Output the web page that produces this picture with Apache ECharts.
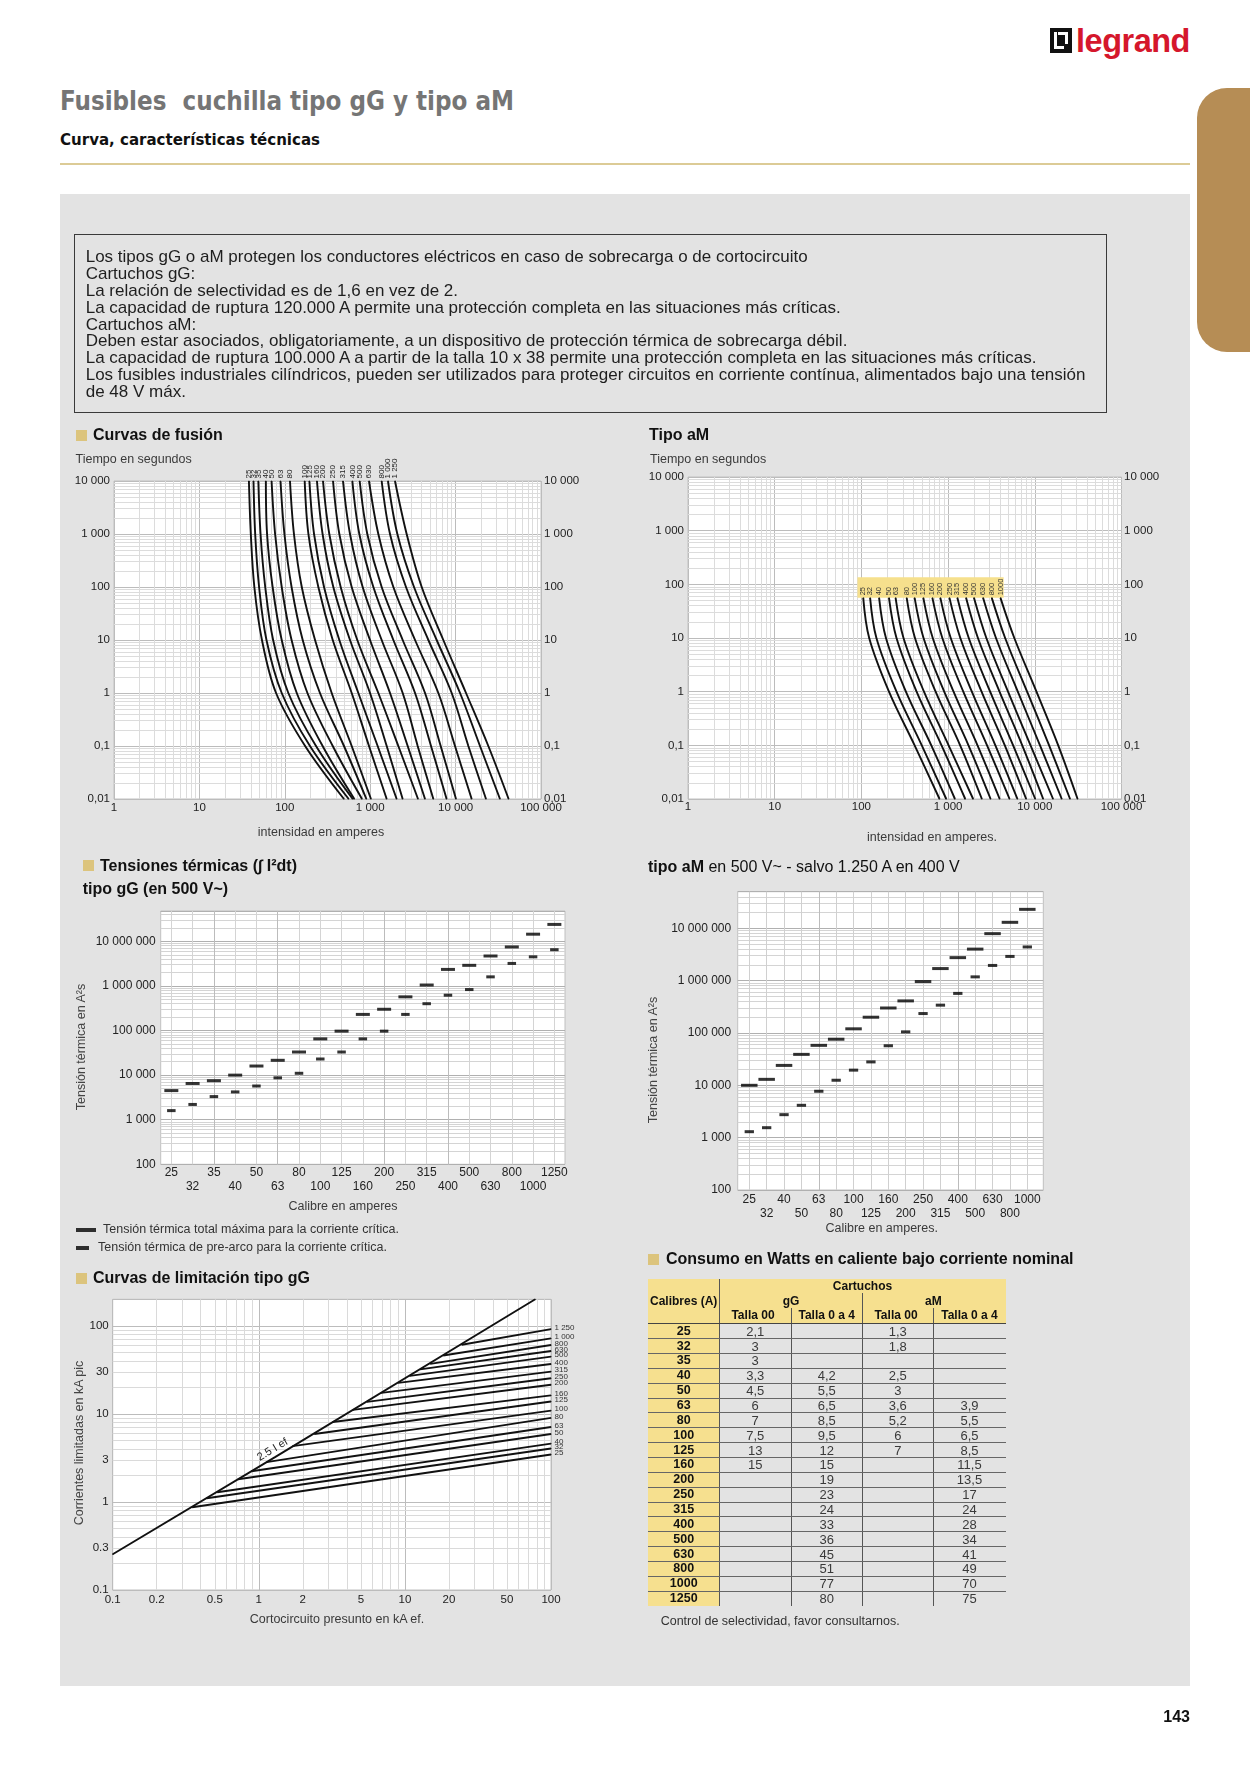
<!DOCTYPE html>
<html lang="es">
<head>
<meta charset="utf-8">
<title>Fusibles cuchilla tipo gG y tipo aM</title>
<script src="https://cdn.jsdelivr.net/npm/echarts@6.0.0/dist/echarts.min.js"></script>
<style>
html,body{margin:0;padding:0;background:#fff;}
body{width:1250px;height:1766px;position:relative;overflow:hidden;font-family:'Liberation Sans',Arial,Helvetica,sans-serif;color:#222;}
.abs{position:absolute;white-space:pre;}
.sq{position:absolute;width:11px;height:11px;background:#dcc47d;}
</style>
</head>
<body>
<div class="abs" style="left:60px;top:194px;width:1130px;height:1492px;background:#e3e3e3"></div>
<div class="abs" style="left:1197px;top:88px;width:53px;height:264px;background:#b68d55;border-radius:30px 0 0 30px"></div>
<div class="abs" style="left:60px;top:163px;width:1130px;height:2px;background:#dccb96"></div>
<div class="abs" style="left:74px;top:234px;width:1031px;height:177px;border:1px solid #3a3a3a"></div>
<!-- logo -->
<div class="abs" style="left:1050px;top:28px;width:22px;height:25px;background:#111"></div>
<div class="abs" style="left:1054px;top:32px;width:3px;height:17px;background:#fff"></div>
<div class="abs" style="left:1054px;top:46px;width:10px;height:3px;background:#fff"></div>
<div class="abs" style="left:1065px;top:32px;width:3px;height:12px;background:#fff"></div>
<div class="abs" style="left:1058px;top:32px;width:10px;height:3px;background:#fff"></div>
<div id="logo" class="abs" style="left:1076px;top:20px;line-height:40px;font-size:34px;font-weight:bold;color:#d5172c;letter-spacing:-0.5px">legrand</div>
<div id="title" class="abs" style="left:60px;top:85px;line-height:32px;font-size:26px;font-weight:bold;color:#757575;font-family:'Liberation Sans Narrow','DejaVu Sans Condensed','Liberation Sans',sans-serif">Fusibles  cuchilla tipo gG y tipo aM</div>
<div id="subtitle" class="abs" style="left:60px;top:129.5px;line-height:20px;font-size:16px;font-weight:bold;color:#111;font-family:'Liberation Sans Narrow','DejaVu Sans Condensed','Liberation Sans',sans-serif">Curva, características técnicas</div>
<div id="chart" style="position:absolute;left:0;top:0;width:1250px;height:1766px;"></div>
<div id="texts"></div>
<div id="table" class="abs" style="left:648px;top:1279.3px;width:357.7px;height:326.4px"></div>
<script>
// ===================== DATA =====================
// Curvas de fusión gG : time points (s) and melting current (A) per rating
const fusionTimes = [10000, 1000, 100, 10, 1, 0.1, 0.01];
const gGRatings = ['25','32','35','40','50','63','80','100','125','160','200','250','315','400','500','630','800','1 000','1 250'];
const gGFusionCurrents = [
  [38, 40, 44, 54, 79, 173, 493],
  [43, 45, 50, 61, 92, 197, 560],
  [49, 52, 59, 73, 110, 232, 624],
  [60, 62, 72, 92, 138, 277, 652],
  [70, 77, 92, 120, 184, 364, 802],
  [89, 99, 120, 162, 258, 493, 902],
  [115, 128, 158, 226, 354, 607, 1021],
  [171, 189, 247, 364, 607, 968, 1560],
  [194, 220, 288, 435, 726, 1222, 2042],
  [238, 277, 370, 580, 995, 1560, 2400],
  [280, 332, 451, 706, 1245, 2135, 3630],
  [367, 435, 607, 995, 1706, 2747, 4385],
  [480, 580, 816, 1362, 2400, 3597, 5488],
  [618, 746, 1089, 1867, 3350, 5152, 7850],
  [753, 925, 1362, 2400, 4385, 6688, 10110],
  [968, 1245, 1867, 3350, 6281, 9840, 15420],
  [1362, 1706, 2624, 4797, 8995, 14100, 22700],
  [1615, 2080, 3258, 6000, 11270, 19300, 33100],
  [1950, 2672, 4010, 7180, 13240, 24160, 41780]
];
// Tipo aM fusion curves
const aMTimes = [56, 10, 1, 0.1, 0.01];
const aMRatings = ['25','32','40','50','63','80','100','125','160','200','250','315','400','500','630','800','1000'];
const aMFusionCurrents = [
  [105, 123, 208, 411, 797],
  [126, 149, 254, 497, 953],
  [160, 192, 326, 640, 1200],
  [208, 254, 433, 840, 1577],
  [248, 306, 527, 1014, 1946],
  [333, 415, 718, 1377, 2453],
  [411, 521, 902, 1718, 3092],
  [518, 665, 1156, 2183, 3937],
  [659, 858, 1497, 2812, 5117],
  [814, 1072, 1879, 3508, 6310],
  [1037, 1383, 2432, 4508, 7955],
  [1279, 1730, 3055, 5623, 10120],
  [1611, 2208, 3917, 7161, 12500],
  [1987, 2761, 4912, 8933, 16250],
  [2531, 3565, 6368, 11480, 20470],
  [3189, 4550, 8150, 14620, 25520],
  [4018, 5803, 10450, 18620, 31170]
];
// Tensiones térmicas gG (A²s)
const gGThermCal = ['25','32','35','40','50','63','80','100','125','160','200','250','315','400','500','630','800','1000','1250'];
const gGThermTotal = [4500, 6500, 7500, 10000, 16000, 21500, 33000, 65000, 97000, 230000, 300000, 570000, 1050000, 2350000, 2900000, 4700000, 7500000, 14500000, 24000000];
const gGThermPre = [1600, 2200, 3300, 4200, 5700, 8700, 11000, 23000, 33000, 65000, 97000, 230000, 400000, 620000, 830000, 1600000, 3200000, 4500000, 6500000];
// Tensiones térmicas aM (A²s)
const aMThermCal = ['25','32','40','50','63','80','100','125','160','200','250','315','400','500','630','800','1000'];
const aMThermTotal = [10000, 13000, 24000, 39000, 58000, 76000, 120000, 200000, 300000, 410000, 960000, 1700000, 2750000, 4000000, 7900000, 13000000, 23000000];
const aMThermPre = [1300, 1550, 2750, 4150, 7700, 12500, 19500, 28000, 57000, 105000, 235000, 340000, 570000, 1180000, 1950000, 2900000, 4400000];
// Curvas de limitación gG (kA)
const limRatings = ['1 250','1 000','800','630','500','400','315','250','200','160','125','100','80','63','50','40','32','25'];
const limStartKA = [24.5, 18.3, 14.9, 12.7, 10.8, 9.0, 6.9, 5.5, 4.4, 3.2, 2.4, 1.7, 1.13, 0.89, 0.72, 0.52, 0.44, 0.35];
const limStartPeak = [61, 46, 37, 32, 27, 22.5, 17.3, 13.7, 11.1, 8.1, 5.9, 4.3, 2.83, 2.23, 1.81, 1.29, 1.1, 0.87];
const limEndKA = 100;
const limEndPeak = [91.7, 71.9, 60.5, 51.7, 44.7, 36.9, 30.2, 25.4, 21.4, 16.2, 13.8, 10.9, 9.0, 7.1, 5.9, 4.6, 4.04, 3.46];
const diagKA = [0.1, 1.3, 78];
const diagPeak = [0.255, 3.25, 200];
// Consumo en Watts
const calibres = ['25','32','35','40','50','63','80','100','125','160','200','250','315','400','500','630','800','1000','1250'];
const gGTalla00 = [2.1, 3, 3, 3.3, 4.5, 6, 7, 7.5, 13, 15, null, null, null, null, null, null, null, null, null];
const gGTalla04 = [null, null, null, 4.2, 5.5, 6.5, 8.5, 9.5, 12, 15, 19, 23, 24, 33, 36, 45, 51, 77, 80];
const aMTalla00 = [1.3, 1.8, null, 2.5, 3, 3.6, 5.2, 6, 7, null, null, null, null, null, null, null, null, null, null];
const aMTalla04 = [null, null, null, null, null, 3.9, 5.5, 6.5, 8.5, 11.5, 13.5, 17, 24, 28, 34, 41, 49, 70, 75];
// Tick labels
const timeTicks = [0.01, 0.1, 1, 10, 100, 1000, 10000];
const timeTickLabels = ['0,01', '0,1', '1', '10', '100', '1 000', '10 000'];
const currentTicks = [1, 10, 100, 1000, 10000, 100000];
const currentTickLabels = ['1', '10', '100', '1 000', '10 000', '100 000'];
const thermTicks = [100, 1000, 10000, 100000, 1000000, 10000000];
const thermTickLabels = ['100', '1 000', '10 000', '100 000', '1 000 000', '10 000 000'];
const limXTicks = [0.1, 0.2, 0.5, 1, 2, 5, 10, 20, 50, 100];
const limYTicks = [0.1, 0.3, 1, 3, 10, 30, 100];

const LEG_TOTAL = 'Tensión térmica total máxima para la corriente crítica.';
const LEG_PRE = 'Tensión térmica de pre-arco para la corriente crítica.';
const FONT = "'Liberation Sans', Arial, Helvetica, sans-serif";

// ===================== HTML TEXTS =====================
const textsEl = document.getElementById('texts');
function T(text, x, cy, o) {
  o = o || {};
  const lh = o.lh || Math.round((o.fs || 12.5) * 1.25);
  const d = document.createElement('div');
  d.className = 'abs';
  d.textContent = text;
  let css = `left:${x}px;top:${cy - lh / 2}px;line-height:${lh}px;font-size:${o.fs || 12.5}px;color:${o.color || '#222'};`;
  if (o.bold) css += 'font-weight:bold;';
  if (o.anchor === 'c') css += 'transform:translateX(-50%);';
  if (o.anchor === 'r') css += 'transform:translateX(-100%);';
  if (o.rot) css = `left:${x}px;top:${cy}px;line-height:${lh}px;font-size:${o.fs || 12.5}px;color:${o.color || '#222'};transform:translate(-50%,-50%) rotate(-90deg);`;
  d.style.cssText = css;
  (o.parent || textsEl).appendChild(d);
  return d;
}
function SQ(x, cy) { const d = document.createElement('div'); d.className = 'sq'; d.style.left = x + 'px'; d.style.top = (cy - 5.5) + 'px'; textsEl.appendChild(d); }

// text box
const boxLines = [
  'Los tipos gG o aM protegen los conductores eléctricos en caso de sobrecarga o de cortocircuito',
  'Cartuchos gG:',
  'La relación de selectividad es de 1,6 en vez de 2.',
  'La capacidad de ruptura 120.000 A permite una protección completa en las situaciones más críticas.',
  'Cartuchos aM:',
  'Deben estar asociados, obligatoriamente, a un dispositivo de protección térmica de sobrecarga débil.',
  'La capacidad de ruptura 100.000 A a partir de la talla 10 x 38 permite una protección completa en las situaciones más críticas.',
  'Los fusibles industriales cilíndricos, pueden ser utilizados para proteger circuitos en corriente contínua, alimentados bajo una tensión',
  'de 48 V máx.'
];
const boxEls = boxLines.map((t, i) => T(t, 85.7, 256.7 + i * 16.85, {fs: 15, lh: 17, color: '#1e1e1e'}));

// headings
SQ(75.5, 435); T('Curvas de fusión', 93, 435, {fs: 16, bold: true, lh: 20, color: '#111'});
T('Tiempo en segundos', 75.5, 459, {fs: 12.5, color: '#3a3a3a'});
T('intensidad en amperes', 321, 832, {fs: 12.5, color: '#3a3a3a', anchor: 'c'});
T('Tipo aM', 649, 435, {fs: 16, bold: true, lh: 20, color: '#111'});
T('Tiempo en segundos', 650, 458.7, {fs: 12.5, color: '#3a3a3a'});
T('intensidad en amperes.', 932, 836.7, {fs: 12.5, color: '#3a3a3a', anchor: 'c'});
SQ(82.7, 865.7); T('Tensiones térmicas (∫ I²dt)', 100, 865.7, {fs: 16, bold: true, lh: 20, color: '#111'});
T('tipo gG (en 500 V~)', 82.7, 889.3, {fs: 16, bold: true, lh: 20, color: '#111'});
T('Tensión térmica en A²s', 80.7, 1047, {fs: 12.5, color: '#444', rot: true});
T('Calibre en amperes', 343, 1206, {fs: 12.5, color: '#3a3a3a', anchor: 'c'});
(function () {
  const d = T('', 648, 867, {fs: 16, lh: 20, color: '#111'});
  d.innerHTML = '<b>tipo aM</b> en 500 V~ - salvo 1.250 A en 400 V';
})();
T('Tensión térmica en A²s', 652.7, 1060, {fs: 12.5, color: '#444', rot: true});
T('Calibre en amperes.', 881.7, 1228, {fs: 12.5, color: '#3a3a3a', anchor: 'c'});
SQ(76, 1278); T('Curvas de limitación tipo gG', 93, 1278, {fs: 16, bold: true, lh: 20, color: '#111'});
T('Corrientes limitadas en kA pic', 79, 1443, {fs: 12.5, color: '#444', rot: true});
T('Cortocircuito presunto en kA ef.', 337, 1619, {fs: 12.5, color: '#3a3a3a', anchor: 'c'});
SQ(648, 1259); T('Consumo en Watts en caliente bajo corriente nominal', 666, 1259, {fs: 16, bold: true, lh: 20, color: '#111'});
T('Control de selectividad, favor consultarnos.', 660.7, 1621, {fs: 12.5, color: '#333'});
T('143', 1190, 1717, {fs: 16, bold: true, lh: 20, color: '#111', anchor: 'r'});

// ===================== TABLE =====================
(function () {
  const tb = document.getElementById('table');
  const W = 357.7, H = 326.4, headH = 44, rowH = 14.86;
  const colC = [35.7, 107.2, 178.7, 249.8, 321.5];
  const add = (css, txt) => { const d = document.createElement('div'); d.className = 'abs'; d.style.cssText = css; if (txt != null) d.textContent = txt; tb.appendChild(d); return d; };
  add(`left:0;top:0;width:${W}px;height:${headH}px;background:#f6e08f`);
  add(`left:0;top:0;width:71.3px;height:${H}px;background:#f6e08f`);
  add(`left:71.3px;top:0;width:1px;height:${H}px;background:#555`);
  add(`left:214.3px;top:14px;width:1px;height:${H - 14}px;background:#555`);
  add(`left:143px;top:29px;width:1px;height:${H - 29}px;background:#555`);
  add(`left:285.3px;top:29px;width:1px;height:${H - 29}px;background:#555`);
  add(`left:0;top:${headH}px;width:${W}px;height:1px;background:#444`);
  for (let i = 1; i < calibres.length; i++) add(`left:0;top:${headH + i * rowH}px;width:${W}px;height:1px;background:#666`);
  const cell = (t, cx, cy, css) => add(`left:${cx}px;top:${cy - 7.5}px;line-height:15px;transform:translateX(-50%);${css}`, t);
  const hb = 'font-weight:bold;font-size:12px;color:#111;';
  cell('Cartuchos', 214.5, 7.2, hb);
  cell('Calibres (A)', 35.7, 22.4, hb);
  cell('gG', 143, 22.4, hb);
  cell('aM', 285.3, 22.4, hb);
  cell('Talla 00', 105, 36.7, hb);
  cell('Talla 0 a 4', 178.7, 36.7, hb);
  cell('Talla 00', 248, 36.7, hb);
  cell('Talla 0 a 4', 321.5, 36.7, hb);
  const f = v => v == null ? '' : String(v).replace('.', ',');
  calibres.forEach((c, i) => {
    const cy = headH + (i + 0.5) * rowH + 0.5;
    cell(c, colC[0], cy, 'font-weight:bold;font-size:12.5px;color:#111;');
    cell(f(gGTalla00[i]), colC[1], cy, 'font-size:13px;color:#3a3a3a;');
    cell(f(gGTalla04[i]), colC[2], cy, 'font-size:13px;color:#3a3a3a;');
    cell(f(aMTalla00[i]), colC[3], cy, 'font-size:13px;color:#3a3a3a;');
    cell(f(aMTalla04[i]), colC[4], cy, 'font-size:13px;color:#3a3a3a;');
  });
})();

// ===================== CHARTS =====================
const fmtLog = (ticks, labels) => v => {
  for (let i = 0; i < ticks.length; i++) if (Math.abs(Math.log10(v) - Math.log10(ticks[i])) < 1e-6) return labels[i];
  return '';
};
function minorLogValues(min, max) {
  const out = [];
  for (let e = Math.floor(Math.log10(min)); e < Math.ceil(Math.log10(max)); e++)
    for (let m = 2; m <= 9; m++) {
      const v = +(m * Math.pow(10, e)).toPrecision(6);
      if (v > min * 1.0001 && v < max * 0.9999) out.push(v);
    }
  return out;
}
function gridLines(xi, yi, xs, ys, color, z) {
  const data = [];
  xs.forEach(v => data.push({xAxis: v}));
  ys.forEach(v => data.push({yAxis: v}));
  return {type: 'line', xAxisIndex: xi, yAxisIndex: yi, data: [], z: z || 1, silent: true, symbol: 'none',
    markLine: {silent: true, z: z || 1, symbol: ['none', 'none'], label: {show: false}, animation: false,
      lineStyle: {type: 'solid', color: color, width: 1}, emphasis: {disabled: true}, data: data}};
}
const noLine = {axisLine: {show: false}, axisTick: {show: false}};
const split = c => ({show: true, lineStyle: {color: c, width: 1}});
const lbl = o => Object.assign({color: '#222', fontSize: 11.5, fontFamily: FONT}, o);

const grids = [
  {left: 114, top: 481, width: 427, height: 318},
  {left: 688, top: 477, width: 433.5, height: 322},
  {left: 160.7, top: 911, width: 404.3, height: 253.3},
  {left: 737.7, top: 891.7, width: 305.6, height: 298.3},
  {left: 740.6, top: 891.7, width: 295.4, height: 298.3},
  {left: 112.7, top: 1299.3, width: 438.3, height: 290.7}
].map((g, i) => Object.assign({show: i !== 4, backgroundColor: '#fff', borderColor: '#c0c0c0', borderWidth: 1, containLabel: false, outerBoundsMode: 'none'}, g));

const xAxis = [
  Object.assign({gridIndex: 0, type: 'log', logBase: 10, min: 1, max: 100000, splitLine: split('#bcbcbc'),
    axisLabel: lbl({margin: 2.5, formatter: fmtLog(currentTicks, currentTickLabels)})}, noLine),
  Object.assign({gridIndex: 1, type: 'log', logBase: 10, min: 1, max: 100000, splitLine: split('#bcbcbc'),
    axisLabel: lbl({margin: 1.5, formatter: fmtLog(currentTicks, currentTickLabels)})}, noLine),
  Object.assign({gridIndex: 2, type: 'category', data: gGThermCal, splitLine: {show: false},
    axisLabel: lbl({fontSize: 12, margin: 1.7, lineHeight: 14, interval: 0, formatter: (v, i) => i % 2 ? '\n' + v : v})}, noLine),
  {gridIndex: 3, type: 'value', show: false, min: 0, max: 1},
  Object.assign({gridIndex: 4, type: 'category', data: aMThermCal, splitLine: {show: false},
    axisLabel: lbl({fontSize: 12, margin: 3, lineHeight: 14, interval: 0, formatter: (v, i) => i % 2 ? '\n' + v : v})}, noLine),
  Object.assign({gridIndex: 5, type: 'log', logBase: 10, min: 0.1, max: 100, splitLine: split('#bcbcbc'),
    axisLabel: lbl({margin: 3.5, customValues: limXTicks, formatter: v => String(v)})}, noLine)
];
const yAxis = [
  Object.assign({gridIndex: 0, type: 'log', min: 0.01, max: 10000, position: 'left', splitLine: split('#bcbcbc'),
    axisLabel: lbl({margin: 4, formatter: fmtLog(timeTicks, timeTickLabels)})}, noLine),
  Object.assign({gridIndex: 0, type: 'log', min: 0.01, max: 10000, position: 'right', splitLine: {show: false},
    axisLabel: lbl({margin: 3, formatter: fmtLog(timeTicks, timeTickLabels)})}, noLine),
  Object.assign({gridIndex: 1, type: 'log', min: 0.01, max: 10000, position: 'left', splitLine: split('#bcbcbc'),
    axisLabel: lbl({margin: 4, formatter: fmtLog(timeTicks, timeTickLabels)})}, noLine),
  Object.assign({gridIndex: 1, type: 'log', min: 0.01, max: 10000, position: 'right', splitLine: {show: false},
    axisLabel: lbl({margin: 2.5, formatter: fmtLog(timeTicks, timeTickLabels)})}, noLine),
  Object.assign({gridIndex: 2, type: 'log', min: 100, max: 4.8e7, splitLine: split('#b0b0b0'),
    axisLabel: lbl({fontSize: 12, margin: 5, formatter: fmtLog(thermTicks, thermTickLabels)})}, noLine),
  Object.assign({gridIndex: 3, type: 'log', min: 100, max: 5e7, splitLine: split('#b0b0b0'),
    axisLabel: lbl({fontSize: 12, margin: 6.5, formatter: fmtLog(thermTicks, thermTickLabels)})}, noLine),
  {gridIndex: 4, type: 'log', min: 100, max: 5e7, show: false},
  Object.assign({gridIndex: 5, type: 'log', min: 0.1, max: 200, splitLine: split('#bcbcbc'),
    axisLabel: lbl({margin: 4, customValues: limYTicks, formatter: v => String(v)})}, noLine)
];

const series = [];
// grid lines (kept beneath the curves)
series.push(gridLines(0, 0, minorLogValues(1, 100000), minorLogValues(0.01, 10000), '#dcdcdc'));
series.push(gridLines(1, 2, minorLogValues(1, 100000), minorLogValues(0.01, 10000), '#dcdcdc'));
series.push(gridLines(2, 4, gGThermCal, minorLogValues(100, 4.8e7), '#d4d4d4'));
series.push(gridLines(2, 4, ['35', '63', '200', '400'], [], '#bcbcbc', 1.2));
series.push(gridLines(3, 5, [], minorLogValues(100, 5e7), '#d4d4d4'));
series.push(gridLines(4, 6, aMThermCal, [], '#d0d0d0'));
series.push(gridLines(4, 6, ['63', '400'], [], '#bcbcbc', 1.2));
series.push(gridLines(5, 7, minorLogValues(0.1, 100), minorLogValues(0.1, 200), '#dadada'));

// yellow label band (tipo aM)
series.push({type: 'line', xAxisIndex: 1, yAxisIndex: 2, data: [], z: 2, silent: true,
  markArea: {silent: true, z: 2, itemStyle: {color: '#f6e08d'}, label: {show: false},
    data: [[{xAxis: 90, yAxis: 56}, {xAxis: 4370, yAxis: 135}]]}});

const curveBase = {type: 'line', z: 4, smooth: 0.35, symbol: 'circle', symbolSize: 1, showSymbol: true, silent: true,
  animation: false, itemStyle: {color: '#111'}, emphasis: {disabled: true}};
gGFusionCurrents.forEach((cur, k) => {
  series.push(Object.assign({}, curveBase, {name: 'gG ' + gGRatings[k], xAxisIndex: 0, yAxisIndex: 0,
    lineStyle: {color: '#111', width: 1.9},
    data: cur.map((I, j) => j === 0 ? {value: [I, fusionTimes[j]], label: {show: true, position: 'top', distance: 2, rotate: 90,
      align: 'left', verticalAlign: 'middle', fontSize: 8, color: '#222', fontFamily: FONT, formatter: gGRatings[k]}} : [I, fusionTimes[j]])}));
});
aMFusionCurrents.forEach((cur, k) => {
  series.push(Object.assign({}, curveBase, {name: 'aM ' + aMRatings[k], xAxisIndex: 1, yAxisIndex: 2,
    lineStyle: {color: '#111', width: 1.9},
    data: cur.map((I, j) => j === 0 ? {value: [I, aMTimes[j]], label: {show: true, position: 'top', distance: 2, rotate: 90,
      align: 'left', verticalAlign: 'middle', fontSize: 7.5, color: '#333', fontFamily: FONT, formatter: aMRatings[k]}} : [I, aMTimes[j]])}));
});

// thermal stress
const dash = {type: 'scatter', symbol: 'rect', z: 4, silent: true, animation: false, itemStyle: {color: '#000'}, emphasis: {disabled: true}};
series.push(Object.assign({}, dash, {name: LEG_TOTAL, xAxisIndex: 2, yAxisIndex: 4, data: gGThermTotal, symbolSize: [14, 3]}));
series.push(Object.assign({}, dash, {name: LEG_PRE, xAxisIndex: 2, yAxisIndex: 4, data: gGThermPre, symbolSize: [8.5, 3]}));
series.push(Object.assign({}, dash, {name: 'aM total', xAxisIndex: 4, yAxisIndex: 6, data: aMThermTotal, symbolSize: [16.5, 3]}));
series.push(Object.assign({}, dash, {name: 'aM pre-arco', xAxisIndex: 4, yAxisIndex: 6, data: aMThermPre, symbolSize: [9.3, 3]}));

// limitation
series.push(Object.assign({}, curveBase, {name: '2.5 I ef', smooth: false, xAxisIndex: 5, yAxisIndex: 7,
  lineStyle: {color: '#111', width: 1.9},
  data: diagKA.map((x, j) => j === 1 ? {value: [x, diagPeak[j]], label: {show: true, position: 'top', distance: 2, rotate: 31,
    align: 'center', verticalAlign: 'bottom', fontSize: 11, color: '#222', fontFamily: FONT, formatter: '2.5 I ef'}} : [x, diagPeak[j]])}));
limRatings.forEach((r, k) => {
  series.push(Object.assign({}, curveBase, {name: 'lim ' + r, smooth: false, xAxisIndex: 5, yAxisIndex: 7,
    lineStyle: {color: '#111', width: 1.9},
    data: [[limStartKA[k], limStartPeak[k]], {value: [limEndKA, limEndPeak[k]], label: {show: true, position: 'right', distance: 3,
      offset: [0, -1.5], fontSize: 8, color: '#333', fontFamily: FONT, formatter: r}}]}));
});

const chart = echarts.init(document.getElementById('chart'), null, {renderer: 'canvas'});
chart.setOption({
  animation: false,
  backgroundColor: 'transparent',
  textStyle: {fontFamily: FONT},
  grid: grids,
  xAxis: xAxis,
  yAxis: yAxis,
  legend: [
    {data: [LEG_TOTAL], left: 76, top: 1223.5, padding: 0, itemWidth: 20, itemHeight: 4, icon: 'rect', selectedMode: false,
      textStyle: {fontSize: 12.5, color: '#333', fontFamily: FONT, padding: [0, 0, 0, 2]}},
    {data: [LEG_PRE], left: 76, top: 1241.5, padding: 0, itemWidth: 13, itemHeight: 4, icon: 'rect', selectedMode: false,
      textStyle: {fontSize: 12.5, color: '#333', fontFamily: FONT, padding: [0, 0, 0, 4]}}
  ],
  series: series
});

// ===================== FIT TEXT WIDTHS =====================
function fitX(el, target) {
  const w = el.getBoundingClientRect().width;
  if (w > 0) { el.style.transformOrigin = '0 50%'; el.style.transform = 'scaleX(' + (target / w) + ')'; }
}
function fitAll() {
  fitX(document.getElementById('title'), 454);
  fitX(document.getElementById('subtitle'), 260);
  fitX(document.getElementById('logo'), 114);
  const w = boxEls[7].getBoundingClientRect().width;
  if (w > 0) { const fs = 15 * 1000 / w; boxEls.forEach(e => { e.style.fontSize = fs + 'px'; }); }
}
if (document.fonts && document.fonts.ready) document.fonts.ready.then(fitAll); else fitAll();
</script>
</body>
</html>
